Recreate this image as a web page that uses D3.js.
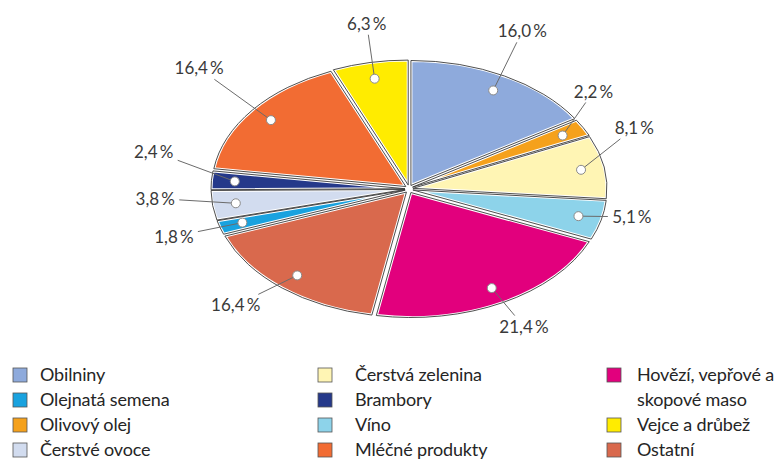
<!DOCTYPE html>
<html>
<head>
<meta charset="utf-8">
<script src="https://cdn.jsdelivr.net/npm/d3@7"></script>
<style>
  body { margin: 0; background: #fff; }
  svg text { font-family: Lato, "Open Sans", sans-serif; }
</style>
</head>
<body>
<svg id="chart" width="779" height="461"></svg>
<script>
// categories in pie order (clockwise from 12 o'clock)
var categories = ["Obilniny", "Olivový olej", "Čerstvá zelenina", "Víno",
    "Hovězí, vepřové a skopové maso", "Ostatní", "Olejnatá semena",
    "Čerstvé ovoce", "Brambory", "Mléčné produkty", "Vejce a drůbež"];
var values = [16.0, 2.2, 8.1, 5.1, 21.4, 16.4, 1.8, 3.8, 2.4, 16.4, 6.3];
var colors = ["#8eaadc", "#f5a11c", "#fff5b4", "#8dd3ea", "#e2007d", "#d9694d",
    "#19a2df", "#d2dcef", "#25398a", "#f26c33", "#ffec00"];

// legend layout: columns of category names (first name of column 3 wraps over 2 lines)
var legendCols = [
    ["Obilniny", "Olejnatá semena", "Olivový olej", "Čerstvé ovoce"],
    ["Čerstvá zelenina", "Brambory", "Víno", "Mléčné produkty"],
    ["Hovězí, vepřové a skopové maso", "Vejce a drůbež", "Ostatní"]
];

// small angle nudges (deg) and distances so labels don't crowd, like in the original
var labelNudge = [-4, -11, -13, -3, 0, 4, 0, 4, 9, 4, 2];
var labelDist = [1.39, 1.23, 1.26, 1.17, 1.25, 1.29, 1.27, 1.31, 1.35, 1.45, 1.34];

var svg = d3.select("#chart"),
    cx = 409, cy = 189,
    rx = 194, ry = 125,
    R = 100,             // arc radius before squashing into the ellipse
    explode = 4;

var pie = d3.pie().sort(null).value(function (d) { return d; });
var arcs = pie(values);
var arc = d3.arc().innerRadius(0).outerRadius(R);

var fmt = function (v) { return d3.format(".1f")(v).replace(".", ",") + "\u2009%"; };

// point on the ellipse for an angle (0 = top, clockwise) and radius factor
function pt(a, f) {
    return [cx + Math.sin(a) * rx * f, cy - Math.cos(a) * ry * f];
}

function sliceTransform(d) {
    var m = (d.startAngle + d.endAngle) / 2;
    var dx = Math.sin(m) * explode, dy = -Math.cos(m) * explode;
    return "translate(" + (cx + dx) + "," + (cy + dy) + ") scale(" + (rx / R) + "," + (ry / R) + ")";
}

//slices: filled with a white halo, then dark outlines on top
var slices = svg.append("g").attr("class", "slices");
slices.selectAll("path.fill")
    .data(arcs)
    .enter().append("path")
    .attr("class", "fill")
    .attr("d", arc)
    .attr("fill", function (d, i) { return colors[i]; })
    .attr("stroke", "#fff")
    .attr("stroke-width", 3)
    .attr("stroke-linejoin", "round")
    .attr("vector-effect", "non-scaling-stroke")
    .attr("transform", sliceTransform);
slices.selectAll("path.edge")
    .data(arcs)
    .enter().append("path")
    .attr("class", "edge")
    .attr("d", arc)
    .attr("fill", "none")
    .attr("stroke", "#3b3b3b")
    .attr("stroke-width", 0.9)
    .attr("vector-effect", "non-scaling-stroke")
    .attr("transform", sliceTransform);

//labels with leader lines
var lab = svg.append("g").attr("class", "labels");
arcs.forEach(function (d, i) {
    var m = (d.startAngle + d.endAngle) / 2;
    var dot = pt(m, 0.9);
    var la = m + labelNudge[i] * Math.PI / 180;
    var c = pt(la, labelDist[i]);
    // stop the leader at the label box
    var vx = dot[0] - c[0], vy = dot[1] - c[1];
    var t = Math.min(Math.abs(24 / vx || 1e9), Math.abs(11 / vy || 1e9));
    var end = [c[0] + vx * t, c[1] + vy * t];

    lab.append("line")
        .attr("x1", dot[0]).attr("y1", dot[1])
        .attr("x2", end[0]).attr("y2", end[1])
        .attr("stroke", "#6b6b6b")
        .attr("stroke-width", 1);
    lab.append("circle")
        .attr("cx", dot[0]).attr("cy", dot[1])
        .attr("r", 4.5)
        .attr("fill", "#fff")
        .attr("stroke", "#8a8a8a")
        .attr("stroke-width", 1);
    lab.append("text")
        .attr("x", c[0]).attr("y", c[1])
        .attr("text-anchor", "middle")
        .attr("dy", "0.36em")
        .attr("font-size", 17)
        .attr("fill", "#3a3a3a")
        .text(fmt(values[i]));
});

//legend
var boxX = [13, 318, 607], textX = [40, 355, 637], rowY = [375, 400, 425, 450];
var legend = svg.append("g").attr("class", "legend");
legendCols.forEach(function (col, ci) {
    var row = 0;
    col.forEach(function (name) {
        var i = categories.indexOf(name);
        legend.append("rect")
            .attr("x", boxX[ci]).attr("y", rowY[row] - 7)
            .attr("width", 14).attr("height", 14)
            .attr("fill", colors[i])
            .attr("stroke", "#555")
            .attr("stroke-width", 0.8);
        var lines = name === "Hovězí, vepřové a skopové maso" ? ["Hovězí, vepřové a", "skopové maso"] : [name];
        lines.forEach(function (s, k) {
            legend.append("text")
                .attr("x", textX[ci]).attr("y", rowY[row + k])
                .attr("dy", "0.36em")
                .attr("font-size", 18)
                .attr("letter-spacing", -0.15)
                .attr("fill", "#252525")
                .text(s);
        });
        row += lines.length;
    });
});
</script>
</body>
</html>
